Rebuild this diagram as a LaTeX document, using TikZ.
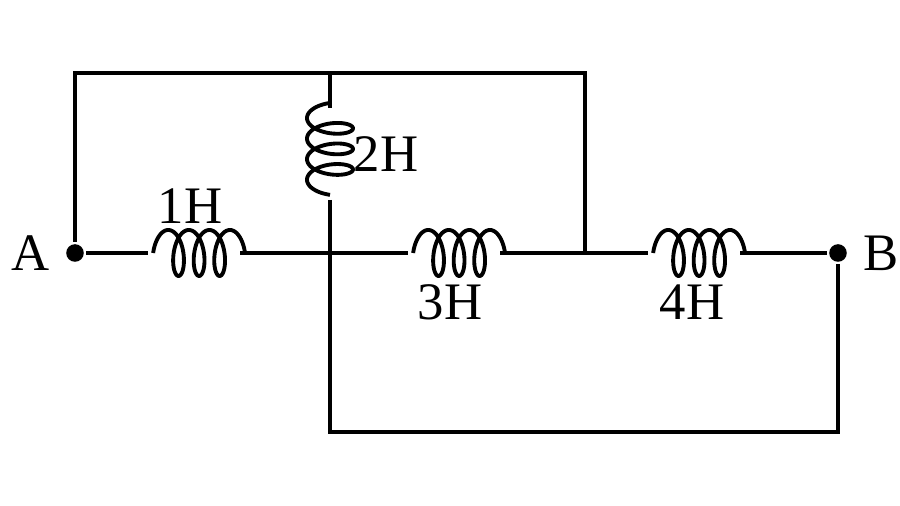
\documentclass[tikz,border=0pt]{standalone}
\usepackage{fontspec}
\setmainfont{Liberation Serif}
\usetikzlibrary{positioning}
\begin{document}
\begin{tikzpicture}[line width=1.3pt,
    ind/.pic={\draw[line join=round, line width=1.1pt] plot[domain=pi/2:7.5*pi, samples=240, smooth]
        ({0.0327*\x - 0.10*sin(\x r) + 0.10}, {-0.23*cos(\x r)});},
    lbl/.style={font=\fontsize{15}{15}\selectfont},
    dot/.style={circle, fill, inner sep=0pt, minimum size=5pt}]
    \useasboundingbox (0,0) rectangle (9,5.06);

    % Terminals and junctions
    \node[dot] (A) at (0.75,2.53) {};
    \node[dot] (B) at (8.38,2.53) {};
    \node[lbl, left=0pt of A] {A};
    \node[lbl, right=0pt of B] {B};
    \coordinate (tl) at (0.75,4.33);
    \coordinate (tm) at (3.30,4.33);
    \coordinate (tr) at (5.85,4.33);
    \coordinate (jr) at (5.85,2.53);
    \coordinate (bl) at (3.30,0.74);
    \coordinate (br) at (8.38,0.74);

    % Inductor ends
    \coordinate (L1a) at (1.48,2.53); \coordinate (L1b) at (2.40,2.53);
    \coordinate (L3a) at (4.08,2.53); \coordinate (L3b) at (5.00,2.53);
    \coordinate (L4a) at (6.48,2.53); \coordinate (L4b) at (7.40,2.53);
    \coordinate (L2a) at (3.30,3.98); \coordinate (L2b) at (3.30,3.06);

    % Wires
    \draw (A) -- (L1a) (L1b) -- (L3a) (L3b) -- (L4a) (L4b) -- (B);
    \draw (A) -- (tl) -- (tr) -- (jr);
    \draw (tm) -- (L2a) (L2b) -- (bl) -- (br) -- (B);

    % Inductors
    \pic at (L1a) {ind};
    \pic at (L3a) {ind};
    \pic at (L4a) {ind};
    \pic[rotate=90] at (L2b) {ind};

    % Labels
    \node[lbl] (n1) at (1.90,3.00) {1H};
    \node[lbl] (n2) at (3.86,3.52) {2H};
    \node[lbl] (n3) at (4.50,2.04) {3H};
    \node[lbl] (n4) at (6.92,2.04) {4H};
\end{tikzpicture}
\end{document}
